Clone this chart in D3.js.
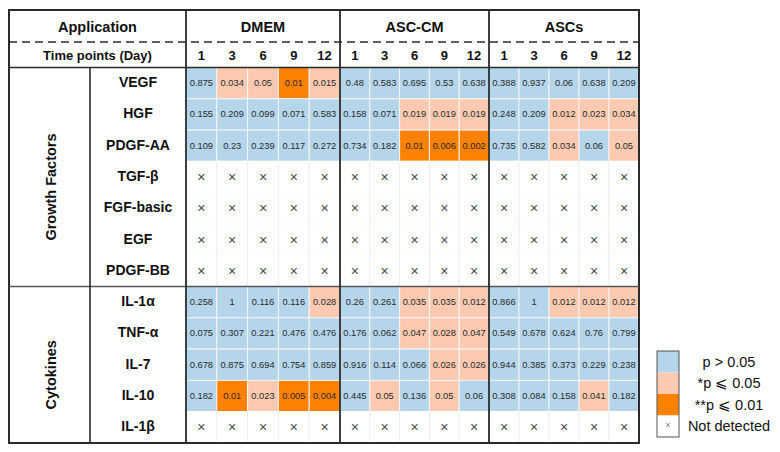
<!DOCTYPE html>
<html>
<head>
<meta charset="utf-8">
<script src="https://cdn.jsdelivr.net/npm/d3@7"></script>
<style>
  html, body { margin: 0; padding: 0; background: #fff; }
  svg { display: block; }
</style>
</head>
<body>
<svg id="chart" width="780" height="452"></svg>
<script>
// ---------------- DATA ----------------
const groups = ["DMEM", "ASC-CM", "ASCs"];
const days = ["1", "3", "6", "9", "12"];
const analytes = ["VEGF", "HGF", "PDGF-AA", "TGF-β", "FGF-basic", "EGF", "PDGF-BB",
                  "IL-1α", "TNF-α", "IL-7", "IL-10", "IL-1β"];
const categories = [
  { name: "Growth Factors", first: "VEGF", last: "PDGF-BB" },
  { name: "Cytokines", first: "IL-1α", last: "IL-1β" }
];
// p-values per analyte: [DMEM, ASC-CM, ASCs], each over days; null = not detected
const pVEGF   = [[0.875, 0.034, 0.05, 0.01, 0.015], [0.48, 0.583, 0.695, 0.53, 0.638], [0.388, 0.937, 0.06, 0.638, 0.209]];
const pHGF    = [[0.155, 0.209, 0.099, 0.071, 0.583], [0.158, 0.071, 0.019, 0.019, 0.019], [0.248, 0.209, 0.012, 0.023, 0.034]];
const pPDGFAA = [[0.109, 0.23, 0.239, 0.117, 0.272], [0.734, 0.182, 0.01, 0.006, 0.002], [0.735, 0.582, 0.034, 0.06, 0.05]];
const pTGFb   = null;
const pFGFb   = null;
const pEGF    = null;
const pPDGFBB = null;
const pIL1a   = [[0.258, 1, 0.116, 0.116, 0.028], [0.26, 0.261, 0.035, 0.035, 0.012], [0.866, 1, 0.012, 0.012, 0.012]];
const pTNFa   = [[0.075, 0.307, 0.221, 0.476, 0.476], [0.176, 0.062, 0.047, 0.028, 0.047], [0.549, 0.678, 0.624, 0.76, 0.799]];
const pIL7    = [[0.678, 0.875, 0.694, 0.754, 0.859], [0.916, 0.114, 0.066, 0.026, 0.026], [0.944, 0.385, 0.373, 0.229, 0.238]];
const pIL10   = [[0.182, 0.01, 0.023, 0.005, 0.004], [0.445, 0.05, 0.136, 0.05, 0.06], [0.308, 0.084, 0.158, 0.041, 0.182]];
const pIL1b   = null;
const pValues = [pVEGF, pHGF, pPDGFAA, pTGFb, pFGFb, pEGF, pPDGFBB, pIL1a, pTNFa, pIL7, pIL10, pIL1b];

const legendLabels = ["p > 0.05", "*p \u2A7D 0.05", "**p \u2A7D 0.01", "Not detected"];
const thresholds = [0.01000001, 0.05000001];   // <=0.01, <=0.05, >0.05
const levelColors = ["#fe8100", "#fbcab0", "#b4d5ea"];

// ---------------- LAYOUT ----------------
const FONT = "'Liberation Sans', Arial, Helvetica, sans-serif";
const L = 9, LABDIV = 90, DATA_L = 186, R = 639;
const T = 10, DASH_Y = 42, HEAD_Y = 67.5, B = 443;
const groupEdges = [186, 340, 489, 639];

const svg = d3.select("#chart");
const color = d3.scaleThreshold().domain(thresholds).range(levelColors);

const y = d3.scaleBand().domain(analytes).range([HEAD_Y, B]);
const gx = d3.scaleOrdinal().domain(groups).range(groups.map((g, i) => [groupEdges[i], groupEdges[i + 1]]));
const xIn = {};
groups.forEach(g => { xIn[g] = d3.scaleBand().domain(days).range(gx(g)); });

// cells
const cells = [];
analytes.forEach((a, ai) => {
  groups.forEach((g, gi) => {
    days.forEach((d, di) => {
      const arr = pValues[ai];
      cells.push({ a, g, d, v: arr ? arr[gi][di] : null });
    });
  });
});

const cellG = svg.append("g");
cellG.selectAll("rect").data(cells).join("rect")
  .attr("x", c => xIn[c.g](c.d))
  .attr("y", c => y(c.a))
  .attr("width", c => xIn[c.g].bandwidth())
  .attr("height", y.bandwidth())
  .attr("fill", c => c.v == null ? "#fff" : color(c.v))
  .attr("stroke", c => c.v == null ? "#eeeeee" : "#f4f4f4")
  .attr("stroke-width", 1);

// horizontal borders for white area: hide horizontal faint lines by covering with white strips
cells.filter(c => c.v == null).forEach(c => {
  cellG.append("rect")
    .attr("x", xIn[c.g](c.d) + 0.5)
    .attr("y", y(c.a) - 0.6)
    .attr("width", xIn[c.g].bandwidth() - 1)
    .attr("height", 1.2)
    .attr("fill", "#fff");
});

cellG.selectAll("text.val").data(cells).join("text")
  .attr("class", "val")
  .attr("x", c => xIn[c.g](c.d) + xIn[c.g].bandwidth() / 2)
  .attr("y", c => y(c.a) + y.bandwidth() / 2)
  .attr("text-anchor", "middle")
  .attr("dominant-baseline", "central")
  .attr("font-family", FONT)
  .attr("font-size", c => c.v == null ? 14 : 9.3)
  .attr("fill", c => c.v == null ? "#4a4a4a" : "#2a2a2a")
  .text(c => c.v == null ? "\u00D7" : String(c.v));

// header texts
svg.append("text")
  .attr("x", (L + DATA_L) / 2).attr("y", (T + DASH_Y) / 2 + 1)
  .attr("text-anchor", "middle").attr("dominant-baseline", "central")
  .attr("font-family", FONT).attr("font-weight", "bold").attr("font-size", 14.5)
  .attr("fill", "#111").text("Application");
svg.append("text")
  .attr("x", (L + DATA_L) / 2).attr("y", (DASH_Y + HEAD_Y) / 2 + 1)
  .attr("text-anchor", "middle").attr("dominant-baseline", "central")
  .attr("font-family", FONT).attr("font-weight", "bold").attr("font-size", 13)
  .attr("fill", "#111").text("Time points (Day)");

groups.forEach(g => {
  const [x0, x1] = gx(g);
  svg.append("text")
    .attr("x", (x0 + x1) / 2).attr("y", (T + DASH_Y) / 2 + 1)
    .attr("text-anchor", "middle").attr("dominant-baseline", "central")
    .attr("font-family", FONT).attr("font-weight", "bold").attr("font-size", 14.5)
    .attr("fill", "#111").text(g);
  days.forEach(d => {
    svg.append("text")
      .attr("x", xIn[g](d) + xIn[g].bandwidth() / 2).attr("y", (DASH_Y + HEAD_Y) / 2 + 1)
      .attr("text-anchor", "middle").attr("dominant-baseline", "central")
      .attr("font-family", FONT).attr("font-weight", "bold").attr("font-size", 13)
      .attr("fill", "#111").text(d);
  });
});

// row labels
svg.selectAll("text.row").data(analytes).join("text")
  .attr("class", "row")
  .attr("x", (LABDIV + DATA_L) / 2)
  .attr("y", a => y(a) + y.bandwidth() / 2 - 1)
  .attr("text-anchor", "middle").attr("dominant-baseline", "central")
  .attr("font-family", FONT).attr("font-weight", "bold").attr("font-size", 14)
  .attr("fill", "#111").text(a => a);

// category labels (rotated)
categories.forEach(c => {
  const y0 = y(c.first), y1 = y(c.last) + y.bandwidth();
  const cy = (y0 + y1) / 2 + 10;
  svg.append("text")
    .attr("transform", `translate(${(L + LABDIV) / 2 + 1},${cy}) rotate(-90)`)
    .attr("text-anchor", "middle").attr("dominant-baseline", "central")
    .attr("font-family", FONT).attr("font-weight", "bold").attr("font-size", 14.5)
    .attr("fill", "#111").text(c.name);
});

// lines
const lines = svg.append("g").attr("stroke", "#2b2b2b").attr("fill", "none");
lines.append("rect").attr("x", L).attr("y", T).attr("width", R - L).attr("height", B - T).attr("stroke-width", 2);
lines.append("line").attr("x1", L).attr("x2", R).attr("y1", DASH_Y).attr("y2", DASH_Y)
  .attr("stroke-width", 1.6).attr("stroke-dasharray", "8,5");
lines.append("line").attr("x1", L).attr("x2", R).attr("y1", HEAD_Y).attr("y2", HEAD_Y).attr("stroke-width", 1.6);
const sepY = y(categories[1].first);
lines.append("line").attr("x1", L).attr("x2", R).attr("y1", sepY).attr("y2", sepY).attr("stroke-width", 1.6).attr("stroke", "#555");
lines.append("line").attr("x1", LABDIV).attr("x2", LABDIV).attr("y1", HEAD_Y).attr("y2", B).attr("stroke-width", 1.6);
groupEdges.slice(0, 3).forEach(xv => {
  lines.append("line").attr("x1", xv).attr("x2", xv).attr("y1", T).attr("y2", B).attr("stroke-width", 1.8);
});

// legend
const lg = svg.append("g");
const LX = 657, LY = 351, LW = 22, LH = 21.5;
legendLabels.forEach((lab, i) => {
  lg.append("rect")
    .attr("x", LX).attr("y", LY + i * LH).attr("width", LW).attr("height", LH)
    .attr("fill", i < 3 ? levelColors[2 - i] : "#fff");
  lg.append("text")
    .attr("x", 729).attr("y", LY + i * LH + LH / 2)
    .attr("text-anchor", "middle").attr("dominant-baseline", "central")
    .attr("font-family", FONT).attr("font-size", 14.5)
    .attr("fill", "#111").text(lab);
});
lg.append("text")
  .attr("x", LX + LW / 2).attr("y", LY + 3 * LH + LH / 2 - 1)
  .attr("text-anchor", "middle").attr("dominant-baseline", "central")
  .attr("font-family", FONT).attr("font-size", 9).attr("fill", "#777").text("\u00D7");
lg.append("rect")
  .attr("x", LX).attr("y", LY).attr("width", LW).attr("height", 4 * LH)
  .attr("fill", "none").attr("stroke", "#555").attr("stroke-width", 1);
</script>
</body>
</html>
